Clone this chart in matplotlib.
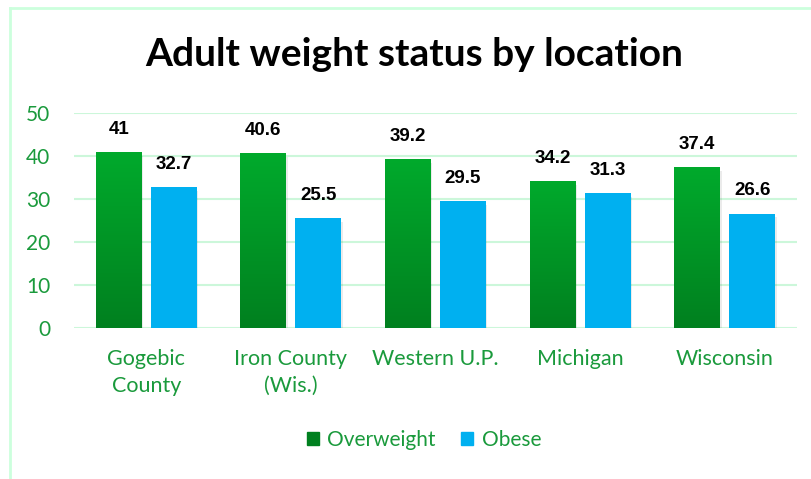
import matplotlib.pyplot as plt
import matplotlib.patches as mpatches
from matplotlib.lines import Line2D
from matplotlib.colors import LinearSegmentedColormap
import numpy as np

locations = ['Gogebic\nCounty', 'Iron County\n(Wis.)', 'Western U.P.', 'Michigan', 'Wisconsin']
overweight = [41, 40.6, 39.2, 34.2, 37.4]
obese = [32.7, 25.5, 29.5, 31.3, 26.6]

green_top = '#00AA2C'
green_bot = '#00801F'
blue = '#00B0F0'
label_green = '#1A9A3C'
grid_green = '#CCF7DA'

fig = plt.figure(figsize=(8.12, 4.79), dpi=100)
ax = fig.add_axes([0.0911, 0.3152, 0.8904, 0.4489])

# chart border (light green)
fig.add_artist(Line2D([10/812, 10/812], [0, 1 - 8/479], color='#CCFFDD', lw=2))
fig.add_artist(Line2D([10/812, 1], [1 - 8/479, 1 - 8/479], color='#CCFFDD', lw=2))

x = np.arange(len(locations))
w = 0.318
off = 0.19

grad = np.linspace(0, 1, 256).reshape(-1, 1)
gcmap = LinearSegmentedColormap.from_list('g', [green_bot, green_top])

for i in range(len(locations)):
    # shadows
    for xc, h in [(x[i] - off, overweight[i]), (x[i] + off, obese[i])]:
        sh = mpatches.Rectangle((xc - w/2 + 0.01, -0.9), w, h, facecolor='#000000',
                                alpha=0.08, edgecolor='none', zorder=2)
        ax.add_patch(sh)
    r = mpatches.Rectangle((x[i] - off - w/2, 0), w, overweight[i], facecolor='none',
                           edgecolor='none', zorder=3)
    ax.add_patch(r)
    im = ax.imshow(grad, cmap=gcmap, origin='lower', aspect='auto',
                   extent=(x[i] - off - w/2, x[i] - off + w/2, 0, overweight[i]), zorder=3)
    im.set_clip_path(r)
    ax.bar(x[i] + off, obese[i], w, color=blue, zorder=3)
    ax.text(x[i] - off, overweight[i] + 3.3, f'{overweight[i]:g}', ha='center', va='bottom',
            fontsize=13.5, fontweight='bold', family='Liberation Sans')
    ax.text(x[i] + off, obese[i] + 3.3, f'{obese[i]:g}', ha='center', va='bottom',
            fontsize=13.5, fontweight='bold', family='Liberation Sans')

ax.set_xlim(-0.5, 4.5)
ax.set_ylim(0, 50)
ax.set_yticks(range(0, 51, 10))
ax.set_xticks(x)
ax.set_xticklabels(locations, fontsize=15.5, color=label_green, family='Lato', linespacing=1.45)
ax.tick_params(axis='y', labelsize=15, labelcolor=label_green, length=0, pad=17)
ax.tick_params(axis='x', length=0, pad=15)
for lab in ax.get_yticklabels():
    lab.set_family('Lato')
ax.grid(axis='y', color=grid_green, lw=1.5, zorder=0)
ax.set_axisbelow(True)
for s in ax.spines.values():
    s.set_visible(False)

fig.text(0.51, 1 - 55/479, 'Adult weight status by location', ha='center', va='center',
         fontsize=28, fontweight='bold', family='Lato')

handles = [mpatches.Patch(color=green_bot, label='Overweight'),
           mpatches.Patch(color=blue, label='Obese')]
leg = fig.legend(handles=handles, loc='center', bbox_to_anchor=(0.522, 1 - 440/479), ncol=2,
                 frameon=False, prop={'family': 'Lato', 'size': 15}, handlelength=0.6,
                 handleheight=0.6, handletextpad=0.4, columnspacing=1.2)
for t in leg.get_texts():
    t.set_color(label_green)

fig.savefig('out.png', dpi=100)
